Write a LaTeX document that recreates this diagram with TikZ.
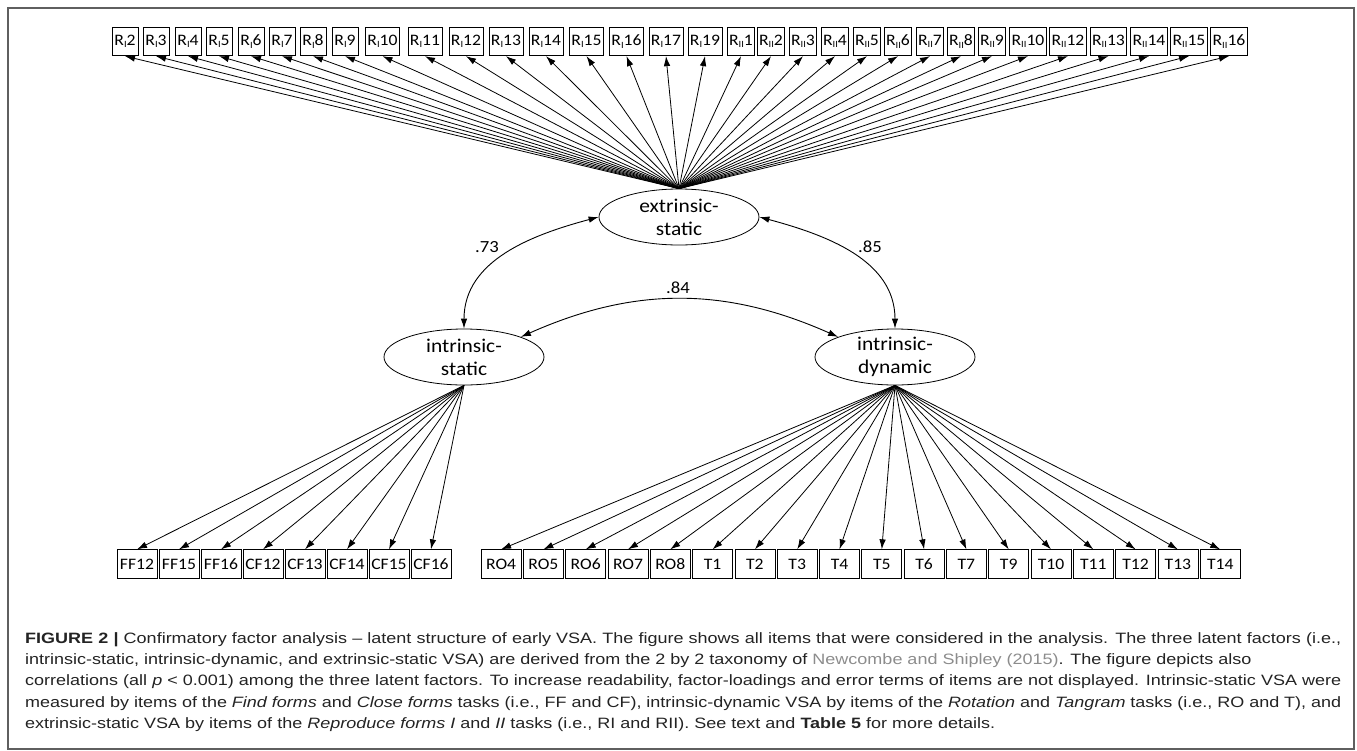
\documentclass[tikz,border=0pt]{standalone}
\usepackage{fontspec}
\usetikzlibrary{arrows.meta,shapes.geometric}

\newfontfamily\diafont[FakeStretch=1.1]{Carlito}
\newfontfamily\capfont[FakeStretch=1.2]{Liberation Sans}
\definecolor{framegray}{RGB}{95,95,95}
\definecolor{citegray}{RGB}{140,140,140}
\definecolor{captext}{RGB}{35,35,35}
\newcommand{\Rsub}[2]{R\raisebox{-0.3ex}{\fontsize{9.5}{10}\selectfont #1}#2}
\newcommand{\fullline}[1]{\makebox[1316pt][s]{#1}}

\tikzset{
    item/.style={draw, line width=0.8pt, minimum height=28.5pt, minimum width=26pt,
        inner xsep=2pt, inner ysep=0pt, font=\diafont\fontsize{16}{18}\selectfont},
    factor/.style={ellipse, draw, line width=0.8pt, minimum width=160pt, minimum height=56pt,
        inner sep=0pt, align=center, font=\diafont\fontsize{19.5}{23}\selectfont},
    load/.style={->, line width=0.8pt},
    corr/.style={<->, line width=0.9pt},
    coef/.style={font=\diafont\fontsize{17}{20}\selectfont}
}

\begin{document}
\begin{tikzpicture}[x=1pt, y=1pt, >={Latex[length=10pt,width=6.5pt]}]

\useasboundingbox (0,0) rectangle (1357,-750);
\draw[framegray, line width=1.3pt] (8,-8) rectangle (1354,-749);

% Draw the three latent factors
\node[factor] (es) at (679,-217) {extrinsic-\\static};
\node[factor] (is) at (464,-357) {intrinsic-\\static};
\node[factor] (id) at (895,-357) {intrinsic-\\dynamic};

% Draw the correlations between the factors
\draw[corr] (es.west) to[out=195,in=90] (is.north);
\draw[corr] (es.east) to[out=-15,in=90] (id.north);
\draw[corr] (is.north east) to[bend left=24] (id.north west);
\node[coef] (c73) at (487,-247) {.73};
\node[coef] (c85) at (870,-247) {.85};
\node[coef] (c84) at (678,-288) {.84};

% Draw the items of the Reproduce forms tasks
\foreach \x/\s/\n [count=\i] in {125/I/2, 156/I/3, 188/I/4, 219/I/5, 251/I/6, 282/I/7,
    313/I/8, 345/I/9, 382.5/I/10, 425/I/11, 466/I/12, 506/I/13, 546/I/14, 586.5/I/15,
    626.5/I/16, 666/I/17, 705/I/19, 741/II/1, 771/II/2, 803/II/3, 835/II/4, 867/II/5,
    898/II/6, 930/II/7, 961/II/8, 992/II/9, 1028/II/10, 1068/II/12, 1108.5/II/13,
    1149/II/14, 1189/II/15, 1229/II/16} {
    \node[item] (es\i) at (\x,-41.5) {\Rsub{\s}{\n}};
    \draw[load] (es.north) -- (es\i.south);
}

% Draw the items of the Find forms and Close forms tasks
\foreach \n [count=\i] in {FF12,FF15,FF16,CF12,CF13,CF14,CF15,CF16} {
    \node[item, minimum width=40pt] (is\i) at ({95+42*\i},-564) {\n};
    \draw[load] (is.south) -- (is\i.north);
}

% Draw the items of the Rotation and Tangram tasks
\foreach \n [count=\i] in {RO4,RO5,RO6,RO7,RO8,T1,T2,T3,T4,T5,T6,T7,T9,T10,T11,T12,T13,T14} {
    \node[item, minimum width=40pt] (id\i) at ({458.8+42.3*\i},-564) {\n};
    \draw[load] (id.south) -- (id\i.north);
}

% Caption
\node[anchor=base west, align=left, inner sep=0pt, text=captext,
    font=\capfont\fontsize{15}{21.2}\selectfont] (caption) at (25,-728.3) {%
\fullline{\textbf{FIGURE 2 |} Confirmatory factor analysis – latent structure of early VSA. The figure shows all items that were considered in the analysis. The three latent factors (i.e.,}\\
intrinsic-static, intrinsic-dynamic, and extrinsic-static VSA) are derived from the 2 by 2 taxonomy of \textcolor{citegray}{Newcombe and Shipley (2015)}. The figure depicts also\\
\fullline{correlations (all \textit{p} < 0.001) among the three latent factors. To increase readability, factor-loadings and error terms of items are not displayed. Intrinsic-static VSA were}\\
\fullline{measured by items of the \textit{Find forms} and \textit{Close forms} tasks (i.e., FF and CF), intrinsic-dynamic VSA by items of the \textit{Rotation} and \textit{Tangram} tasks (i.e., RO and T), and}\\
extrinsic-static VSA by items of the \textit{Reproduce forms I} and \textit{II} tasks (i.e., RI and RII). See text and \textbf{Table 5} for more details.};

\end{tikzpicture}
\end{document}
